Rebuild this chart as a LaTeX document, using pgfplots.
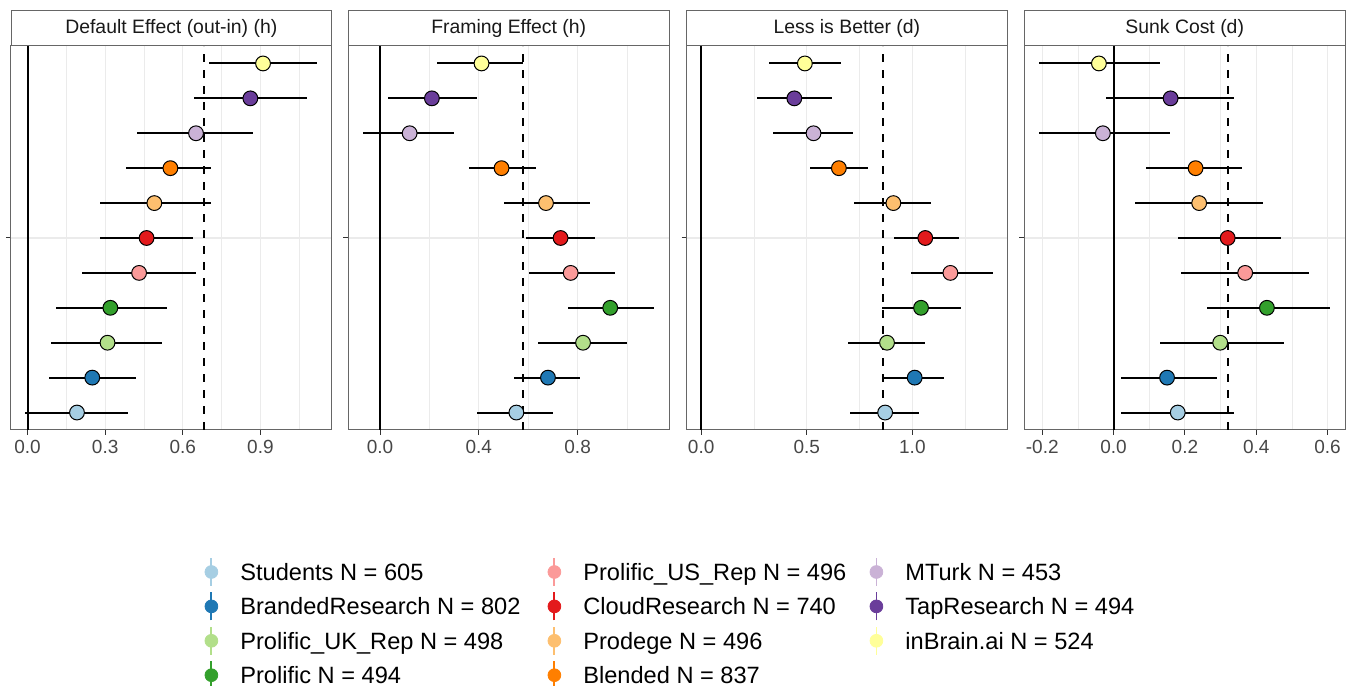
\documentclass[border=0pt]{standalone}
\usepackage{fontspec}
\setmainfont{Liberation Sans}
\usepackage{pgfplots}
\usepackage{pgfplotstable}
\pgfplotsset{compat=1.18}

\definecolor{cStu}{HTML}{A6CEE3}
\definecolor{cBra}{HTML}{1F78B4}
\definecolor{cPuk}{HTML}{B2DF8A}
\definecolor{cPro}{HTML}{33A02C}
\definecolor{cPus}{HTML}{FB9A99}
\definecolor{cClo}{HTML}{E31A1C}
\definecolor{cPrd}{HTML}{FDBF6F}
\definecolor{cBle}{HTML}{FF7F00}
\definecolor{cMtu}{HTML}{CAB2D6}
\definecolor{cTap}{HTML}{6A3D9A}
\definecolor{cInb}{HTML}{FFFF99}

\pgfplotstableread{
y est lo hi cls
1 0.191 -0.008 0.388 stu
2 0.250 0.081 0.420 bra
3 0.309 0.090 0.521 puk
4 0.320 0.111 0.539 pro
5 0.431 0.211 0.650 pus
6 0.460 0.281 0.640 clo
7 0.490 0.281 0.709 prd
8 0.552 0.382 0.709 ble
9 0.651 0.422 0.870 mtu
10 0.861 0.642 1.080 tap
11 0.910 0.703 1.119 inb
}\tabA
\pgfplotstableread{
y est lo hi cls
1 0.552 0.392 0.700 stu
2 0.680 0.541 0.811 bra
3 0.822 0.641 1.001 puk
4 0.932 0.762 1.111 pro
5 0.772 0.602 0.951 pus
6 0.731 0.591 0.871 clo
7 0.672 0.502 0.850 prd
8 0.492 0.362 0.630 ble
9 0.120 -0.069 0.300 mtu
10 0.210 0.032 0.391 tap
11 0.411 0.232 0.579 inb
}\tabB
\pgfplotstableread{
y est lo hi cls
1 0.871 0.704 1.030 stu
2 1.011 0.858 1.150 bra
3 0.880 0.693 1.060 puk
4 1.041 0.855 1.230 pro
5 1.180 0.992 1.380 pus
6 1.061 0.912 1.219 clo
7 0.910 0.723 1.090 prd
8 0.652 0.513 0.791 ble
9 0.532 0.342 0.720 mtu
10 0.441 0.263 0.620 tap
11 0.491 0.321 0.660 inb
}\tabC
\pgfplotstableread{
y est lo hi cls
1 0.180 0.021 0.339 stu
2 0.150 0.021 0.289 bra
3 0.299 0.131 0.479 puk
4 0.430 0.261 0.608 pro
5 0.369 0.190 0.549 pus
6 0.320 0.180 0.469 clo
7 0.240 0.061 0.419 prd
8 0.230 0.091 0.359 ble
9 -0.030 -0.209 0.159 mtu
10 0.160 -0.020 0.339 tap
11 -0.041 -0.209 0.129 inb
}\tabD

\pgfplotsset{
  panel/.style={
    scale only axis, width=160.3pt, height=192pt, anchor=south west,
    ymin=0.5, ymax=11.5, ytick={6}, yticklabels={},
    xmajorgrids, ymajorgrids, xminorgrids,
    major grid style={black!8, line width=0.6pt},
    minor grid style={black!8, line width=0.3pt},
    axis line style={black!60, line width=0.5pt},
    tick align=outside, major tick length=2.5pt, minor tick length=0pt,
    tick style={black!80, line width=0.5pt},
    xtick pos=bottom, ytick pos=left,
    xticklabel style={font=\fontsize{9.5}{10}\selectfont, text=black!72, inner sep=0pt, anchor=north, text height=6.8pt, text depth=0pt, yshift=-2.5pt},
  },
  eb/.style={draw=none, mark=none, forget plot,
    error bars/.cd, x dir=both, x explicit, error mark=none,
    error bar style={draw=black, solid, line width=1pt}},
  pts/.style={scatter, only marks, mark=*, mark size=3.7pt,
    scatter src=explicit symbolic,
    scatter/classes={
      stu={mark=*,draw=black,fill=cStu,line width=0.5pt},
      bra={mark=*,draw=black,fill=cBra,line width=0.5pt},
      puk={mark=*,draw=black,fill=cPuk,line width=0.5pt},
      pro={mark=*,draw=black,fill=cPro,line width=0.5pt},
      pus={mark=*,draw=black,fill=cPus,line width=0.5pt},
      clo={mark=*,draw=black,fill=cClo,line width=0.5pt},
      prd={mark=*,draw=black,fill=cPrd,line width=0.5pt},
      ble={mark=*,draw=black,fill=cBle,line width=0.5pt},
      mtu={mark=*,draw=black,fill=cMtu,line width=0.5pt},
      tap={mark=*,draw=black,fill=cTap,line width=0.5pt},
      inb={mark=*,draw=black,fill=cInb,line width=0.5pt}}},
  leg/.style={hide axis, scale only axis, width=678pt, height=343pt,
    at={(0pt,0pt)}, anchor=south west, xmin=0, xmax=1, ymin=0, ymax=1,
    legend cell align=left,
    legend image code/.code={
      \draw[##1, line width=0.9pt, overlay] (0pt,-7pt) -- (0pt,7pt);
      \fill[##1] (0pt,0pt) circle (3.2pt);},
    legend style={draw=none, fill=none, inner sep=0pt, outer sep=0pt,
      anchor=north west, row sep=8.8pt, column sep=11.1pt,
      font=\fontsize{11.8}{12}\selectfont,
      nodes={inner sep=0pt, text height=8.4pt, text depth=0pt}}},
}

\newcommand{\panelplots}[2]{%
  \addplot[black, line width=1pt, forget plot] coordinates {(0,0.5) (0,11.5)};
  \addplot[eb] table[x=est, y=y, x error plus expr=\thisrow{hi}-\thisrow{est}, x error minus expr=\thisrow{est}-\thisrow{lo}] {#1};
  \addplot[pts] table[x=est, y=y, meta=cls] {#1};
  \addplot[black, line width=1pt, dash pattern=on 4pt off 4pt, forget plot] coordinates {(#2,0.5) (#2,11.5)};
}
\newcommand{\strip}[2]{%
  \draw[black!60, line width=0.5pt, fill=white] (#1.north west) rectangle ([yshift=17.5pt]#1.north east);
  \node[font=\fontsize{9.7}{10}\selectfont, text=black!90, inner sep=0pt] at ([yshift=8.9pt]#1.north) {#2};
}

\begin{document}
\begin{tikzpicture}
\useasboundingbox (0,0) rectangle (678pt,343pt);

\begin{axis}[panel, name=ax1, at={(5.5pt,128pt)},
  xmin=-0.064, xmax=1.175, xtick={0,0.3,0.6,0.9}, xticklabels={0.0,0.3,0.6,0.9},
  minor xtick={0.15,0.45,0.75,1.05}]
\panelplots{\tabA}{0.681}
\end{axis}

\begin{axis}[panel, name=ax2, at={(174.2pt,128pt)},
  xmin=-0.128, xmax=1.17, xtick={0,0.4,0.8}, xticklabels={0.0,0.4,0.8},
  minor xtick={0.2,0.6,1.0}]
\panelplots{\tabB}{0.580}
\end{axis}

\begin{axis}[panel, name=ax3, at={(343.3pt,128pt)},
  xmin=-0.069, xmax=1.449, xtick={0,0.5,1.0}, xticklabels={0.0,0.5,1.0},
  minor xtick={0.25,0.75,1.25}]
\panelplots{\tabC}{0.860}
\end{axis}

\begin{axis}[panel, name=ax4, at={(512.2pt,128pt)},
  xmin=-0.25, xmax=0.649, xtick={-0.2,0,0.2,0.4,0.6}, xticklabels={-0.2,0.0,0.2,0.4,0.6},
  minor xtick={-0.1,0.1,0.3,0.5}]
\panelplots{\tabD}{0.320}
\end{axis}

\strip{ax1}{Default Effect (out-in) (h)}
\strip{ax2}{Framing Effect (h)}
\strip{ax3}{Less is Better (d)}
\strip{ax4}{Sunk Cost (d)}

\begin{axis}[leg, legend style={at={(0.15088,0.17843)}}]
\addlegendimage{cStu}\addlegendentry{Students N = 605}
\addlegendimage{cBra}\addlegendentry{BrandedResearch N = 802}
\addlegendimage{cPuk}\addlegendentry{Prolific\_UK\_Rep N = 498}
\addlegendimage{cPro}\addlegendentry{Prolific N = 494}
\end{axis}
\begin{axis}[leg, legend style={at={(0.40383,0.17843)}}]
\addlegendimage{cPus}\addlegendentry{Prolific\_US\_Rep N = 496}
\addlegendimage{cClo}\addlegendentry{CloudResearch N = 740}
\addlegendimage{cPrd}\addlegendentry{Prodege N = 496}
\addlegendimage{cBle}\addlegendentry{Blended N = 837}
\end{axis}
\begin{axis}[leg, legend style={at={(0.64130,0.17843)}}]
\addlegendimage{cMtu}\addlegendentry{MTurk N = 453}
\addlegendimage{cTap}\addlegendentry{TapResearch N = 494}
\addlegendimage{cInb}\addlegendentry{inBrain.ai N = 524}
\end{axis}
\end{tikzpicture}
\end{document}
